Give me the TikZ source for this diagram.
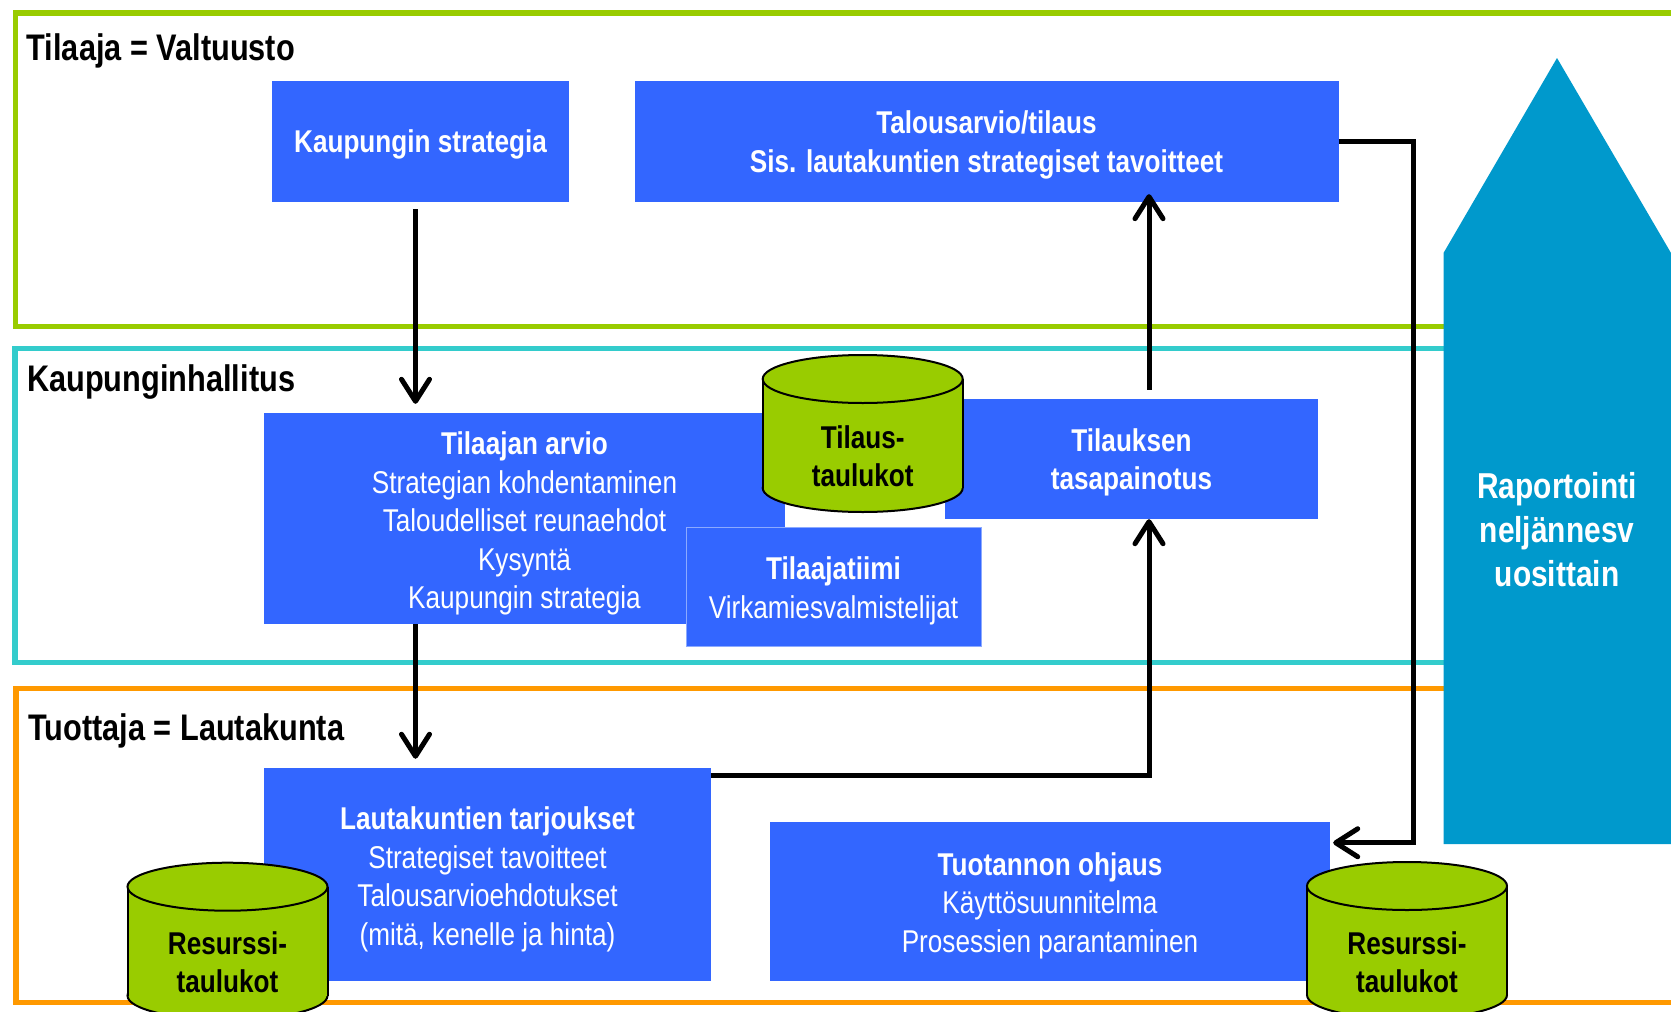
\documentclass[tikz,border=0pt]{standalone}
\usepackage{fontspec}
\setmainfont{Liberation Sans}[FakeStretch=0.83]
\usetikzlibrary{arrows.meta}
\definecolor{boxblue}{RGB}{51,102,255}
\definecolor{frgreen}{RGB}{153,204,0}
\definecolor{frcyan}{RGB}{51,204,204}
\definecolor{frorange}{RGB}{255,153,0}
\definecolor{rapblue}{RGB}{0,153,204}
\definecolor{tiimiedge}{RGB}{140,170,255}
\newcommand\dbcyl[2]{%
  \filldraw[fill=frgreen, draw=black, line width=2pt] (#1,#2+133) ellipse[x radius=100, y radius=24];
  \fill[frgreen] (#1-100,#2+24) rectangle (#1+100,#2+133);
  \draw[black, line width=2pt] (#1-100,#2+24) -- (#1-100,#2+133) (#1+100,#2+24) -- (#1+100,#2+133);
  \filldraw[fill=frgreen, draw=black, line width=2pt] (#1,#2+24) ellipse[x radius=100, y radius=24];
}
\begin{document}
\begin{tikzpicture}[x=1pt,y=-1pt,
  box/.style={fill=boxblue, draw=none, inner sep=0pt},
  btxt/.style={text=white, align=center, inner sep=0pt,
    font=\fontsize{31.5}{38.5}\selectfont},
  frame/.style={line width=5.5pt},
  ttl/.style={anchor=base west, inner sep=0pt, font=\fontsize{37}{44}\selectfont\bfseries},
  cyltxt/.style={align=center, inner sep=0pt, text=black,
    font=\fontsize{31.5}{38.5}\selectfont\bfseries},
  arr/.style={line width=5pt, -{Straight Barb[length=22pt,width=28pt,round]}},
]
\useasboundingbox (0,0) rectangle (1671,1012);
\fill[white] (0,0) rectangle (1671,1012);
% frames
\draw[frame, frgreen]  (1700,13)   -- (15.5,13)   -- (15.5,326.7) -- (1700,326.7);
\draw[frame, frcyan]   (1700,348.3) -- (15,348.3) -- (15,662.5)   -- (1700,662.5);
\draw[frame, frorange] (1700,688.5) -- (16,688.5) -- (16,1002.7)  -- (1700,1002.7);
% reporting arrow shape
\fill[rapblue] (1443.5,844) -- (1443.5,253) -- (1557,58) -- (1671,253) -- (1671,844) -- cycle;
\node[align=center, inner sep=0pt, text=white, font=\fontsize{36}{44}\selectfont\bfseries]
  (rap) at (1557,530) {Raportointi\\neljännesv\\uosittain};
% boxes
\node[box, minimum width=297pt, minimum height=120.7pt] (kstrat) at (420.5,141.3) {};
\node[btxt] (kstratT) at ([yshift=-3.5pt]kstrat.center) {\bfseries Kaupungin strategia};
\node[box, minimum width=704pt, minimum height=120.7pt] (talous) at (986.5,141.3) {};
\node[btxt] (talousT) at ([yshift=-3.5pt]talous.center)
  {\bfseries Talousarvio/tilaus\\\bfseries Sis. lautakuntien strategiset tavoitteet};
\node[box, minimum width=521pt, minimum height=211pt] (arvio) at (524.5,518.5) {};
\node[btxt] (arvioT) at ([yshift=-5pt]arvio.center)
  {\bfseries Tilaajan arvio\\Strategian kohdentaminen\\Taloudelliset reunaehdot\\Kysyntä\\Kaupungin strategia};
\node[box, minimum width=373pt, minimum height=120.5pt] (tasap) at (1131.5,458.75) {};
\node[btxt] (tasapT) at ([yshift=-3.5pt]tasap.center) {\bfseries Tilauksen\\\bfseries tasapainotus};
\node[box, draw=tiimiedge, line width=1pt, minimum width=295pt, minimum height=119pt] (tiimi) at (833.5,586.5) {};
\node[btxt] (tiimiT) at ([yshift=-4.5pt]tiimi.center) {\bfseries Tilaajatiimi\\Virkamiesvalmistelijat};
\node[box, minimum width=447pt, minimum height=212.7pt] (lauta) at (487.5,874.3) {};
\node[btxt] (lautaT) at ([yshift=-5pt]lauta.center)
  {\bfseries Lautakuntien tarjoukset\\Strategiset tavoitteet\\Talousarvioehdotukset\\(mitä, kenelle ja hinta)};
\node[box, minimum width=560pt, minimum height=158.7pt] (tuot) at (1050,901.3) {};
\node[btxt] (tuotT) at ([yshift=-4.5pt]tuot.center)
  {\bfseries Tuotannon ohjaus\\Käyttösuunnitelma\\Prosessien parantaminen};
% databases
\dbcyl{862.7}{355}
\node[cyltxt] (tilaus) at (862.7,456) {Tilaus-\\taulukot};
\dbcyl{227.5}{862.7}
\node[cyltxt] (res1) at (227.5,962) {Resurssi-\\taulukot};
\dbcyl{1407}{862}
\node[cyltxt] (res2) at (1407,962) {Resurssi-\\taulukot};
% titles
\node[ttl] (t1) at (26.5,60) {Tilaaja = Valtuusto};
\node[ttl] (t2) at (27,391.7) {Kaupunginhallitus};
\node[ttl] (t3) at (28,740) {Tuottaja = Lautakunta};
% connectors
\coordinate (a1) at ([xshift=-5pt,yshift=-7.5pt]kstrat.south);
\coordinate (a1e) at ([yshift=9pt]arvio.north);
\draw[arr] (a1) -- (a1e -| a1);
\coordinate (a2e) at ([yshift=9pt]lauta.north);
\draw[arr] (arvio.south -| a1) -- (a2e -| a1);
\coordinate (a3) at ([yshift=-7.7pt]lauta.north east);
\coordinate (a3e) at ([xshift=17.5pt]tasap.south);
\draw[arr] (a3) -| (a3e);
\coordinate (a4) at ([xshift=17.5pt,yshift=8.5pt]tasap.north);
\coordinate (a4e) at ([yshift=7.7pt]talous.south);
\draw[arr] (a4) -- (a4e -| a4);
\coordinate (bend) at ([xshift=75pt]talous.east);
\coordinate (a5e) at ([xshift=3pt,yshift=-21pt]tuot.north east);
\draw[arr] (talous.east) -- (bend) |- (a5e);
\end{tikzpicture}
\end{document}
